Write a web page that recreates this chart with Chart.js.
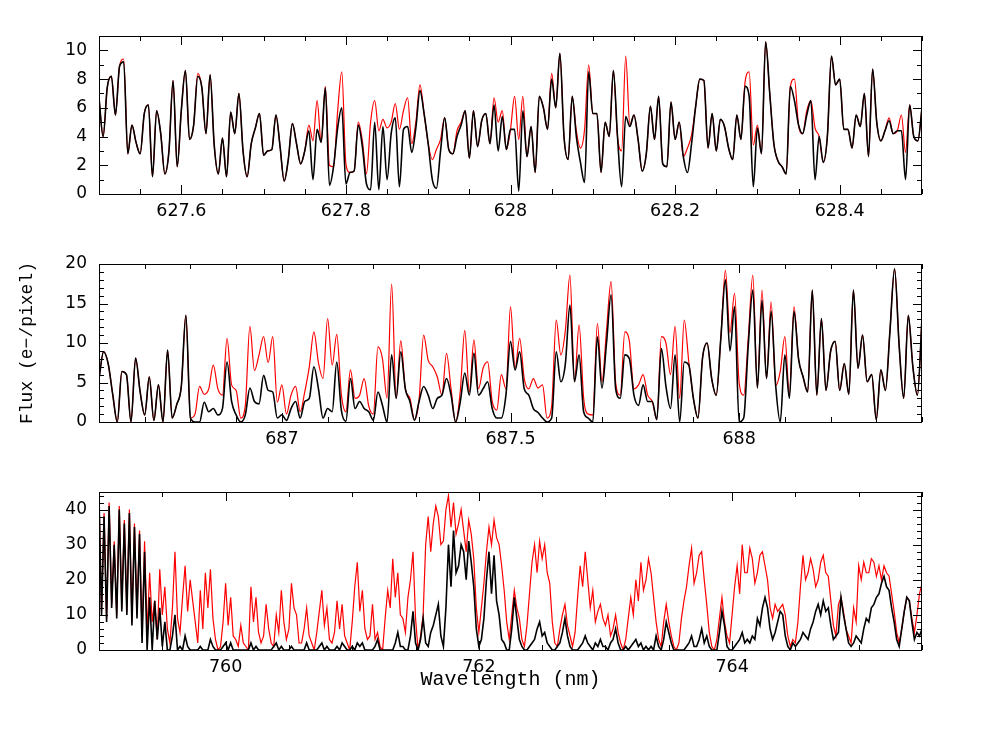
<!DOCTYPE html>
<html>
<head>
<meta charset="utf-8">
<script src="https://cdn.jsdelivr.net/npm/chart.js@4.4.1/dist/chart.umd.min.js"></script>
<style>
  html, body { margin: 0; padding: 0; background: #fff; }
  #wrap { position: relative; width: 981px; height: 733px; }
  canvas { position: absolute; left: 0; }
</style>
</head>
<body>
<div id="wrap">
  <canvas id="c1" width="981" height="228" style="top:0px"></canvas>
  <canvas id="c2" width="981" height="228" style="top:228px"></canvas>
  <canvas id="c3" width="981" height="277" style="top:456px"></canvas>
</div>
<script>
// wavelength grids (nm)
const p1Start = 627.5, p1Step = 0.005;
const p2Start = 686.6, p2Step = 0.01;
const p3Start = 759.0, p3Step = 0.02;

// tick labels
const p1XTicks = [627.6, 627.8, 628, 628.2, 628.4];
const p1YTicks = [0, 2, 4, 6, 8, 10];
const p2XTicks = [687, 687.5, 688];
const p2YTicks = [0, 5, 10, 15, 20];
const p3XTicks = [760, 762, 764];
const p3YTicks = [0, 10, 20, 30, 40];

// panel 1 (627.5 - 628.5 nm)
const p1Black = [
  6.7, 4.0, 7.4, 8.2, 5.5, 8.9, 9.2, 2.8, 4.8, 3.6,
  2.8, 5.6, 6.2, 1.2, 5.8, 4.2, 1.4, 3.0, 7.9, 1.9,
  5.8, 8.6, 3.8, 4.8, 8.2, 7.4, 4.2, 8.3, 3.4, 1.4,
  3.9, 1.2, 5.7, 4.2, 7.0, 3.0, 1.2, 3.5, 4.6, 5.6,
  2.7, 3.0, 3.1, 5.5, 3.3, 0.9, 2.4, 4.9, 3.5, 2.1,
  3.0, 4.4, 1.0, 4.5, 3.6, 7.4, 0.6, 1.9, 4.6, 6.0,
  0.7, 1.5, 1.6, 4.8, 3.3, 0.7, 0.3, 5.0, 0.3, 4.7,
  1.0, 4.2, 5.3, 0.5, 4.5, 4.7, 2.9, 4.6, 7.2, 5.6,
  3.5, 1.0, 0.4, 3.0, 5.3, 3.1, 2.8, 4.0, 4.8, 5.8,
  2.5, 5.8, 3.3, 5.1, 5.6, 3.5, 6.2, 3.0, 5.4, 3.1,
  4.5, 4.5, 0.2, 5.8, 2.6, 4.7, 1.5, 6.8, 6.0, 4.5,
  8.0, 6.0, 9.8, 4.0, 2.4, 6.8, 4.0, 2.2, 0.8, 8.5,
  5.6, 5.6, 1.5, 5.0, 4.0, 8.6, 4.0, 0.5, 5.4, 4.7,
  5.5, 3.8, 1.6, 2.8, 6.1, 3.8, 6.8, 2.1, 1.9, 6.4,
  3.8, 5.0, 2.6, 1.5, 3.5, 6.1, 8.0, 7.9, 3.2, 5.6,
  3.0, 5.2, 4.7, 3.2, 2.4, 5.5, 3.8, 7.5, 6.8, 0.5,
  4.6, 2.8, 10.6, 7.0, 3.5, 2.3, 1.9, 1.4, 7.5, 6.5,
  4.8, 4.2, 5.5, 6.5, 1.0, 4.0, 2.2, 4.0, 9.6, 7.6,
  8.0, 4.5, 4.5, 3.2, 5.5, 4.7, 7.0, 2.6, 8.7, 5.0,
  3.7, 4.4, 5.1, 4.2, 4.4, 4.4, 1.0, 6.2, 4.0, 3.7,
  6.0
];
const p1Red = [
  6.7, 4.0, 7.4, 8.2, 5.5, 8.9, 9.4, 2.8, 4.8, 3.6,
  2.8, 5.6, 6.2, 1.2, 5.8, 4.2, 1.4, 3.0, 7.9, 1.9,
  5.8, 8.6, 3.8, 4.8, 8.4, 7.4, 4.2, 8.3, 3.4, 1.4,
  3.9, 1.2, 5.7, 4.2, 7.0, 3.0, 1.2, 3.5, 4.6, 5.6,
  2.7, 3.0, 3.1, 5.5, 3.3, 0.9, 2.4, 4.9, 3.5, 2.1,
  3.0, 4.8, 3.7, 6.5, 3.6, 7.5, 2.0, 1.9, 5.8, 8.5,
  2.1, 1.5, 1.6, 5.0, 3.7, 1.4, 5.0, 6.5, 4.4, 5.2,
  4.6, 5.0, 6.3, 4.5, 5.8, 6.7, 3.5, 5.0, 7.6, 5.6,
  3.5, 2.4, 3.1, 3.8, 5.3, 3.1, 2.8, 4.4, 5.0, 5.8,
  2.5, 5.8, 3.3, 5.1, 5.6, 3.5, 6.7, 5.0, 5.8, 3.1,
  4.5, 6.8, 3.8, 6.8, 2.6, 4.7, 1.5, 6.8, 6.0, 4.5,
  8.4, 6.0, 9.8, 4.0, 2.4, 6.8, 4.4, 3.2, 4.5, 9.0,
  5.6, 5.6, 1.5, 5.0, 4.0, 8.6, 4.0, 3.0, 9.6, 4.8,
  5.5, 3.8, 1.6, 2.8, 6.1, 3.8, 6.8, 2.1, 1.9, 6.4,
  3.8, 5.0, 2.6, 3.2, 4.1, 6.1, 8.0, 7.9, 3.2, 5.6,
  3.0, 5.2, 4.7, 3.2, 2.4, 5.5, 3.8, 7.8, 8.5, 3.4,
  4.8, 2.8, 10.6, 7.0, 3.5, 2.3, 1.9, 1.4, 7.5, 8.0,
  4.8, 4.2, 5.8, 6.5, 4.6, 4.0, 2.2, 4.0, 9.6, 7.6,
  8.0, 4.5, 4.5, 3.2, 5.5, 4.7, 7.0, 2.6, 8.7, 5.0,
  3.7, 4.4, 5.3, 4.2, 4.4, 5.5, 2.9, 6.2, 4.0, 3.7,
  6.0
];

// panel 2 (686.6 - 688.4 nm)
const p2Black = [
  5.5, 8.9, 7.4, 3.5, 0, 6.4, 6.0, 0, 8.1, 3.8,
  0.9, 5.7, 0.2, 4.7, 0, 9.1, 0.5, 2.2, 4.5, 13.5,
  0.5, 0, 0, 2.5, 1.3, 1.7, 0.9, 1.7, 7.6, 2.6,
  0.9, 0, 0.9, 4.3, 2.6, 2.3, 5.9, 4.0, 3.8, 0.5,
  0.9, 0.2, 1.7, 2.6, 0.5, 2.6, 3.0, 7.0, 4.2, 0.5,
  1.7, 1.3, 7.6, 1.5, 0.1, 5.5, 1.7, 2.6, 1.7, 1.3,
  0.2, 3.8, 2.1, 0, 8.5, 3.0, 8.9, 4.2, 2.6, 0.2,
  2.6, 4.5, 3.4, 1.7, 3.0, 3.4, 5.5, 3.4, 0, 2.5,
  6.2, 3.4, 8.7, 3.4, 4.2, 5.1, 1.7, 0.5, 0.5, 3.4,
  10.2, 6.6, 8.9, 4.2, 3.4, 1.7, 1.2, 0.5, 0, 0.5,
  8.9, 5.1, 7.4, 14.8, 5.1, 8.5, 1.3, 0.5, 0, 10.8,
  4.3, 10.0, 16.1, 4.2, 3.0, 8.5, 8.0, 3.4, 2.1, 4.7,
  2.6, 2.6, 0.3, 9.3, 4.5, 1.7, 8.5, 0, 7.6, 7.2,
  3.0, 0.5, 8.1, 10.0, 5.5, 3.4, 10.6, 18.0, 9.0, 14.6,
  0, 0.5, 9.7, 16.7, 4.3, 15.4, 5.5, 14.0, 4.6, 0,
  8.5, 3.0, 14.0, 8.0, 5.7, 3.8, 16.7, 3.4, 13.1, 4.0,
  8.9, 10.2, 4.0, 7.4, 3.5, 16.7, 6.8, 11.0, 5.1, 6.0,
  0.3, 6.6, 4.0, 11.6, 19.4, 9.7, 3.0, 13.5, 7.0, 3.4,
  13.1
];
const p2Red = [
  5.5, 8.9, 7.4, 3.5, 0, 6.4, 6.0, 0, 8.1, 3.8,
  0.9, 5.7, 0.2, 4.7, 0, 9.1, 0.5, 2.2, 4.5, 13.5,
  0.5, 1.0, 4.5, 3.5, 4.2, 7.2, 4.2, 3.4, 10.6, 4.7,
  4.0, 0.5, 2.1, 12.1, 6.5, 8.5, 10.8, 7.5, 10.8, 2.5,
  4.7, 1.0, 3.4, 4.5, 1.3, 3.8, 7.0, 11.4, 7.5, 5.5,
  13.1, 7.2, 11.1, 3.5, 1.3, 6.6, 3.0, 3.4, 5.5, 2.0,
  1.0, 9.5, 8.0, 3.0, 17.5, 3.0, 10.3, 4.2, 3.0, 0.3,
  2.8, 11.0, 7.8, 7.0, 5.7, 3.4, 8.7, 4.2, 0, 3.8,
  11.6, 3.8, 10.4, 4.2, 6.8, 7.6, 2.6, 1.5, 6.0, 4.2,
  14.6, 6.8, 10.6, 5.5, 4.2, 5.5, 4.3, 4.7, 0.5, 2.0,
  12.9, 8.5, 11.6, 18.6, 5.1, 12.3, 3.0, 1.0, 0.9, 12.5,
  5.1, 11.6, 17.8, 5.0, 3.4, 11.4, 10.2, 4.2, 4.7, 6.0,
  3.4, 2.6, 0.3, 10.8, 10.0, 6.0, 12.1, 3.0, 12.9, 7.6,
  3.0, 0.5, 8.1, 10.0, 5.5, 3.4, 10.6, 19.2, 11.3, 16.3,
  5.0, 3.4, 10.6, 18.6, 4.3, 16.7, 5.5, 15.2, 4.6, 6.4,
  10.8, 3.5, 14.6, 8.0, 5.7, 3.8, 16.7, 3.4, 13.1, 4.0,
  8.9, 10.2, 4.0, 7.4, 3.5, 16.7, 6.8, 11.0, 5.1, 6.0,
  0.3, 6.6, 4.0, 11.6, 19.4, 9.7, 3.0, 13.5, 7.0, 3.4,
  13.1
];

// panel 3 (759 - 765.5 nm)
const p3Black = [
  44, 10, 38, 8, 41, 12, 30, 9, 40, 11, 36, 10, 39, 7, 35, 9, 33, 2, 28, 0,
  15, 0, 14, 3, 12, 1, 8, 0, 0, 4, 10, 0, 1, 0, 4, 1, 0, 0, 0, 0,
  1, 0, 0, 0, 3, 1, 0, 0, 0, 1, 2, 0, 2, 0, 0, 0, 0, 0, 0, 0,
  2, 0, 1, 0, 0, 0, 0, 0, 0, 1, 2, 0, 1, 0, 0, 0, 1, 0, 0, 0,
  0, 0, 2, 0, 0, 0, 0, 1, 2, 0, 1, 0, 0, 0, 1, 0, 2, 1, 0, 0,
  1, 0, 2, 1, 2, 0, 0, 0, 0, 1, 3, 0, 0, 0, 0, 0, 0, 2, 5, 1,
  1, 0, 0, 4, 11, 2, 0, 3, 9, 2, 1, 5, 7, 10, 13, 4, 1, 12, 30, 18,
  34, 22, 24, 30, 28, 20, 31, 25, 18, 6, 1, 3, 9, 20, 28, 16, 27, 14, 10, 3,
  2, 0, 0, 6, 15, 9, 3, 1, 0, 0, 1, 2, 3, 6, 8, 4, 5, 2, 1, 0,
  0, 1, 2, 5, 9, 4, 1, 0, 0, 0, 1, 2, 4, 2, 1, 0, 2, 1, 3, 1,
  1, 0, 2, 3, 6, 2, 0, 0, 1, 0, 1, 2, 3, 1, 2, 0, 1, 0, 1, 0,
  4, 1, 0, 3, 8, 5, 2, 0, 0, 0, 0, 0, 1, 2, 4, 1, 1, 3, 6, 2,
  4, 1, 0, 0, 0, 5, 11, 7, 1, 0, 0, 1, 2, 3, 5, 2, 3, 2, 4, 3,
  9, 7, 12, 15, 12, 6, 3, 5, 8, 11, 10, 4, 1, 0, 2, 1, 2, 3, 5, 4,
  3, 6, 8, 11, 13, 10, 14, 11, 12, 7, 3, 4, 5, 15, 10, 6, 2, 1, 2, 4,
  3, 2, 6, 9, 8, 12, 13, 15, 16, 19, 21, 18, 17, 12, 8, 3, 1, 6, 11, 15,
  14, 8, 3, 5, 4, 6
];
const p3Red = [
  44, 11, 39, 9, 42, 13, 31, 10, 41, 12, 37, 11, 40, 8, 36, 10, 34, 4, 31, 5,
  22, 8, 14, 3, 23, 10, 18, 6, 2, 12, 28, 9, 5, 15, 24, 11, 20, 14, 8, 2,
  17, 6, 22, 12, 23, 9, 3, 0, 1, 8, 19, 7, 15, 4, 3, 1, 7, 2, 1, 0,
  18, 8, 15, 5, 2, 4, 13, 6, 2, 1, 10, 5, 17, 8, 3, 6, 19, 12, 10, 2,
  2, 6, 12, 4, 2, 0, 5, 11, 17, 7, 12, 3, 2, 5, 14, 6, 13, 4, 2, 0,
  8, 18, 25, 11, 17, 6, 3, 4, 13, 3, 5, 1, 0, 9, 17, 12, 26, 15, 22, 10,
  9, 5, 15, 20, 28, 9, 0, 4, 10, 30, 38, 28, 36, 41, 38, 30, 31, 40, 44, 35,
  42, 33, 36, 40, 34, 28, 37, 33, 26, 12, 5, 12, 19, 28, 35, 30, 37, 32, 30, 24,
  17, 8, 3, 10, 17, 12, 9, 3, 1, 7, 16, 25, 30, 22, 31, 26, 30, 22, 19, 8,
  2, 1, 6, 10, 13, 7, 4, 1, 5, 15, 24, 18, 28, 20, 12, 17, 8, 11, 13, 9,
  7, 10, 4, 6, 10, 5, 2, 0, 3, 9, 15, 10, 20, 14, 25, 17, 20, 26, 22, 15,
  8, 3, 1, 8, 13, 8, 4, 1, 0, 2, 9, 14, 18, 24, 29, 19, 22, 27, 28, 20,
  13, 5, 1, 0, 3, 9, 15, 8, 4, 2, 10, 18, 24, 16, 30, 22, 22, 29, 26, 19,
  22, 27, 28, 24, 20, 12, 9, 13, 11, 12, 13, 10, 4, 1, 3, 2, 8, 18, 27, 20,
  22, 26, 23, 18, 20, 25, 27, 22, 21, 14, 7, 4, 13, 15, 11, 6, 4, 2, 12, 8,
  24, 20, 25, 22, 22, 26, 25, 21, 24, 20, 24, 22, 21, 16, 11, 5, 2, 6, 11, 15,
  14, 9, 5, 10, 16, 19
];

function toPoints(vals, start, step) {
  return vals.map((v, i) => ({ x: start + i * step, y: v }));
}

// box around the plot plus inward tick marks on all four sides
const framePlugin = {
  id: 'frame',
  afterDatasetsDraw(chart, args, opts) {
    const { ctx, chartArea: a } = chart;
    const xs = chart.scales.x, ys = chart.scales.y;
    ctx.save();
    ctx.strokeStyle = '#000';
    ctx.lineWidth = 1;
    ctx.strokeRect(a.left + 0.5, a.top + 0.5, a.right - a.left - 1, a.bottom - a.top);
    ctx.beginPath();
    const isMajor = (v, major) => Math.abs(v / major - Math.round(v / major)) < 1e-6;
    for (let n = Math.ceil(xs.min / opts.xMinor - 1e-6); n * opts.xMinor <= xs.max + 1e-9; n++) {
      const v = n * opts.xMinor;
      const len = isMajor(v, opts.xMajor) ? 9 : 5;
      const px = Math.round(xs.getPixelForValue(v)) + 0.5;
      ctx.moveTo(px, a.bottom); ctx.lineTo(px, a.bottom - len);
      ctx.moveTo(px, a.top); ctx.lineTo(px, a.top + len);
    }
    for (let n = Math.ceil(ys.min / opts.yMinor - 1e-6); n * opts.yMinor <= ys.max + 1e-9; n++) {
      const v = n * opts.yMinor;
      const len = isMajor(v, opts.yMajor) ? 9 : 5;
      const py = Math.round(ys.getPixelForValue(v)) + 0.5;
      ctx.moveTo(a.left, py); ctx.lineTo(a.left + len, py);
      ctx.moveTo(a.right, py); ctx.lineTo(a.right - len, py);
    }
    ctx.stroke();
    ctx.restore();
  }
};

function makePanel(id, cfg) {
  const line = cfg.smooth ? { cubicInterpolationMode: 'monotone' } : { tension: 0 };
  return new Chart(document.getElementById(id), {
    type: 'line',
    data: {
      datasets: [
        { data: toPoints(cfg.black, cfg.start, cfg.step), borderColor: '#000000', borderWidth: 1.6, order: 0 },
        { data: toPoints(cfg.red, cfg.start, cfg.step), borderColor: '#ff0000', borderWidth: 1.2, order: 1 }
      ]
    },
    options: {
      responsive: false,
      animation: false,
      events: [],
      layout: { padding: { top: 36, right: 59, left: 0, bottom: 0 } },
      elements: { point: { radius: 0 }, line: line },
      plugins: {
        legend: { display: false },
        tooltip: { enabled: false },
        frame: cfg.frame
      },
      scales: {
        x: {
          type: 'linear',
          min: cfg.xMin,
          max: cfg.xMax,
          grid: { display: false, drawTicks: false },
          border: { display: false },
          afterBuildTicks: s => { s.ticks = cfg.xTicks.map(v => ({ value: v })); },
          afterFit: s => { s.height = cfg.xHeight; },
          ticks: {
            padding: 7,
            autoSkip: false,
            maxRotation: 0,
            color: '#000',
            font: { family: 'DejaVu Sans', size: 17.5 },
            callback: v => String(v)
          },
          title: cfg.xTitle || { display: false }
        },
        y: {
          type: 'linear',
          min: 0,
          max: cfg.yMax,
          grid: { display: false, drawTicks: false },
          border: { display: false },
          afterBuildTicks: s => { s.ticks = cfg.yTicks.map(v => ({ value: v })); },
          afterFit: s => { s.width = 99; },
          ticks: {
            padding: 12,
            color: '#000',
            font: { family: 'DejaVu Sans', size: 17 },
            callback: v => String(v)
          },
          title: cfg.yTitle || { display: false }
        }
      }
    },
    plugins: [framePlugin]
  });
}

makePanel('c1', {
  black: p1Black, red: p1Red, start: p1Start, step: p1Step, smooth: true,
  xMin: 627.5, xMax: 628.5, yMax: 11, xTicks: p1XTicks, yTicks: p1YTicks, xHeight: 34,
  frame: { xMinor: 0.05, xMajor: 0.2, yMinor: 1, yMajor: 2 }
});

makePanel('c2', {
  black: p2Black, red: p2Red, start: p2Start, step: p2Step, smooth: true,
  xMin: 686.6, xMax: 688.4, yMax: 20, xTicks: p2XTicks, yTicks: p2YTicks, xHeight: 34,
  frame: { xMinor: 0.1, xMajor: 0.5, yMinor: 1, yMajor: 5 },
  yTitle: {
    display: true,
    text: 'Flux (e\u2212/pixel)',
    color: '#000',
    font: { family: 'Liberation Mono', size: 18 },
    padding: { top: 16, bottom: 0 }
  }
});

makePanel('c3', {
  black: p3Black, red: p3Red, start: p3Start, step: p3Step, smooth: false,
  xMin: 759, xMax: 765.5, yMax: 45, xTicks: p3XTicks, yTicks: p3YTicks, xHeight: 83,
  frame: { xMinor: 0.5, xMajor: 2, yMinor: 2, yMajor: 10 },
  xTitle: {
    display: true,
    text: 'Wavelength (nm)',
    color: '#000',
    font: { family: 'Liberation Mono', size: 20 },
    padding: { top: 0, bottom: 41 }
  }
});
</script>
</body>
</html>
